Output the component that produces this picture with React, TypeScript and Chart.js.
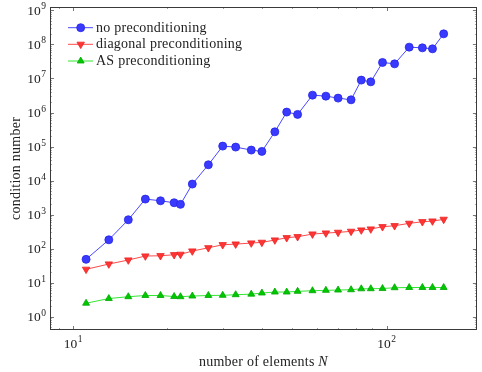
import React, { useEffect, useRef } from "react";
import { Chart, registerables } from "chart.js";

Chart.register(...registerables);

// ---------- data ----------
const elements: number[] = [11, 13, 15, 17, 19, 21, 22, 24, 27, 30, 33, 37, 40, 44, 48, 52, 58, 64, 70, 77, 83, 89, 97, 106, 118, 130, 140, 152];

const noPrecond: number[] = [48.5, 182, 706, 2860, 2550, 2230, 2000, 7890, 29100, 103000, 96400, 78700, 72100, 271000, 1030000, 880000, 3240000, 3030000, 2650000, 2360000, 8950000, 7970000, 29600000, 26900000, 83300000, 79400000, 74300000, 205000000];

const diagPrecond: number[] = [24.7, 35.3, 46.3, 60.6, 61.9, 66.2, 68, 85, 106, 130, 136, 146, 153, 179, 209, 224, 268, 287, 301, 322, 352, 377, 440, 471, 553, 617, 646, 725];

const asPrecond: number[] = [2.49, 3.42, 3.87, 4.2, 4.2, 3.92, 3.87, 4.05, 4.2, 4.25, 4.43, 4.6, 4.97, 5.31, 5.31, 5.57, 5.8, 5.96, 6.08, 6.21, 6.6, 6.64, 6.73, 7.11, 7.21, 7.21, 7.21, 7.21];

const seriesLabels: string[] = ["no preconditioning", "diagonal preconditioning", "AS preconditioning"];

const X_MIN = 8.44;
const X_MAX = 194;
const Y_MIN = 0.407;
const Y_MAX = 1.26e9;

const xTitle = "number of elements ";
const xTitleVar = "N";
const yTitle = "condition number";

const FONT = '"Liberation Serif", "DejaVu Serif", serif';
const TEXT_SIZE = 14;
const TEXT_SPACING = "0.25px";

const LINE_COLORS = ["#4848ff", "#ff4a4a", "#33e633"];
const MARK_FILL = ["#3a3aff", "#ff3434", "#00c800"];
const MARK_EDGE = ["#2525e6", "#e82424", "#00a600"];

function drawPow(ctx: CanvasRenderingContext2D, exp: number, x: number, y: number, align: "center" | "right") {
  const base = "10";
  const sup = String(exp);
  (ctx as any).letterSpacing = "0px";
  ctx.font = `13.5px ${FONT}`;
  const wb = ctx.measureText(base).width;
  ctx.font = `9.5px ${FONT}`;
  const ws = ctx.measureText(sup).width;
  const total = wb + ws + 0.5;
  const start = align === "center" ? x - total / 2 : x - total;
  ctx.textAlign = "left";
  ctx.textBaseline = "alphabetic";
  ctx.fillStyle = "#222";
  ctx.font = `13.5px ${FONT}`;
  ctx.fillText(base, start, y + 4.6);
  ctx.font = `9.5px ${FONT}`;
  ctx.fillText(sup, start + wb + 0.5, y - 1);
}

const decorPlugin = {
  id: "decor",
  beforeDatasetsDraw(chart: any) {
    const { ctx, chartArea: a, scales } = chart;
    const xs = scales.x;
    const ys = scales.y;
    ctx.save();
    ctx.lineWidth = 0.8;
    // x ticks
    for (let e = Math.floor(Math.log10(X_MIN)); e <= Math.ceil(Math.log10(X_MAX)); e++) {
      for (let m = 1; m <= 9; m++) {
        const v = m * Math.pow(10, e);
        if (v < X_MIN || v > X_MAX) continue;
        const px = Math.round(xs.getPixelForValue(v)) + 0.5;
        const len = m === 1 ? 4 : 2;
        ctx.strokeStyle = m === 1 ? "#555" : "#888";
        ctx.beginPath();
        ctx.moveTo(px, a.bottom);
        ctx.lineTo(px, a.bottom - len);
        ctx.moveTo(px, a.top);
        ctx.lineTo(px, a.top + len);
        ctx.stroke();
      }
    }
    // y ticks
    for (let e = Math.floor(Math.log10(Y_MIN)); e <= Math.ceil(Math.log10(Y_MAX)); e++) {
      for (let m = 1; m <= 9; m++) {
        const v = m * Math.pow(10, e);
        if (v < Y_MIN || v > Y_MAX) continue;
        const py = Math.round(ys.getPixelForValue(v)) + 0.5;
        const len = m === 1 ? 4 : 2;
        ctx.strokeStyle = m === 1 ? "#555" : "#999";
        ctx.beginPath();
        ctx.moveTo(a.left, py);
        ctx.lineTo(a.left + len, py);
        ctx.moveTo(a.right, py);
        ctx.lineTo(a.right - len, py);
        ctx.stroke();
      }
    }
    // frame
    ctx.strokeStyle = "#3a3a3a";
    ctx.lineWidth = 1;
    ctx.strokeRect(Math.round(a.left) + 0.5, Math.round(a.top) + 0.5, Math.round(a.right - a.left) - 1, Math.round(a.bottom - a.top) - 1);

    // x tick labels
    for (let e = Math.ceil(Math.log10(X_MIN)); e <= Math.floor(Math.log10(X_MAX)); e++) {
      const px = xs.getPixelForValue(Math.pow(10, e));
      drawPow(ctx, e, px, a.bottom + 13, "center");
    }
    // y tick labels
    for (let e = Math.ceil(Math.log10(Y_MIN)); e <= Math.floor(Math.log10(Y_MAX)); e++) {
      const py = ys.getPixelForValue(Math.pow(10, e));
      drawPow(ctx, e, a.left - 4, py, "right");
    }

    // x title
    ctx.fillStyle = "#222";
    ctx.textBaseline = "middle";
    ctx.textAlign = "left";
    (ctx as any).letterSpacing = TEXT_SPACING;
    ctx.font = `${TEXT_SIZE}px ${FONT}`;
    const w1 = ctx.measureText(xTitle).width;
    ctx.font = `italic ${TEXT_SIZE}px ${FONT}`;
    const w2 = ctx.measureText(xTitleVar).width;
    const cx = (a.left + a.right) / 2;
    const sx = cx - (w1 + w2) / 2;
    ctx.font = `${TEXT_SIZE}px ${FONT}`;
    ctx.fillText(xTitle, sx, 362);
    ctx.font = `italic ${TEXT_SIZE}px ${FONT}`;
    ctx.fillText(xTitleVar, sx + w1, 362);

    // y title
    ctx.save();
    ctx.translate(16, (a.top + a.bottom) / 2);
    ctx.rotate(-Math.PI / 2);
    ctx.textAlign = "center";
    ctx.font = `${TEXT_SIZE}px ${FONT}`;
    ctx.fillText(yTitle, 0, 0);
    ctx.restore();
    ctx.restore();
  },
  afterDatasetsDraw(chart: any) {
    const { ctx } = chart;
    ctx.save();
    const rows = [27.7, 44.3, 61];
    chart.data.datasets.forEach((ds: any, i: number) => {
      const y = rows[i];
      ctx.strokeStyle = LINE_COLORS[i];
      ctx.lineWidth = 1;
      ctx.beginPath();
      ctx.moveTo(68, y);
      ctx.lineTo(93, y);
      ctx.stroke();
      ctx.fillStyle = MARK_FILL[i];
      ctx.strokeStyle = MARK_EDGE[i];
      ctx.lineWidth = 0.8;
      ctx.beginPath();
      const mx = 80.7;
      if (i === 0) {
        ctx.arc(mx, y, 4, 0, Math.PI * 2);
      } else if (i === 1) {
        const r = 4.3;
        ctx.moveTo(mx, y + r);
        ctx.lineTo(mx - r * 0.866, y - r * 0.5);
        ctx.lineTo(mx + r * 0.866, y - r * 0.5);
        ctx.closePath();
      } else {
        const r = 4;
        ctx.moveTo(mx, y - r);
        ctx.lineTo(mx - r * 0.866, y + r * 0.5);
        ctx.lineTo(mx + r * 0.866, y + r * 0.5);
        ctx.closePath();
      }
      ctx.fill();
      ctx.stroke();
      ctx.fillStyle = "#222";
      (ctx as any).letterSpacing = TEXT_SPACING;
      ctx.font = `${TEXT_SIZE}px ${FONT}`;
      ctx.textAlign = "left";
      ctx.textBaseline = "middle";
      ctx.fillText(ds.label, 96, y + 0.5);
    });
    ctx.restore();
  },
};

export default function App() {
  const ref = useRef<HTMLCanvasElement | null>(null);
  useEffect(() => {
    if (!ref.current) return;
    const mk = (vals: number[]) => elements.map((x, i) => ({ x, y: vals[i] }));
    const chart = new Chart(ref.current, {
      type: "scatter",
      data: {
        datasets: [
          {
            label: seriesLabels[0],
            data: mk(noPrecond),
            showLine: true,
            borderColor: LINE_COLORS[0],
            borderWidth: 1,
            pointStyle: "circle",
            pointRadius: 4,
            pointBackgroundColor: MARK_FILL[0],
            pointBorderColor: MARK_EDGE[0],
            pointBorderWidth: 0.8,
          },
          {
            label: seriesLabels[1],
            data: mk(diagPrecond),
            showLine: true,
            borderColor: LINE_COLORS[1],
            borderWidth: 1,
            pointStyle: "triangle",
            pointRotation: 180,
            pointRadius: 4.3,
            pointBackgroundColor: MARK_FILL[1],
            pointBorderColor: MARK_EDGE[1],
            pointBorderWidth: 0.8,
          },
          {
            label: seriesLabels[2],
            data: mk(asPrecond),
            showLine: true,
            borderColor: LINE_COLORS[2],
            borderWidth: 1,
            pointStyle: "triangle",
            pointRadius: 4,
            pointBackgroundColor: MARK_FILL[2],
            pointBorderColor: MARK_EDGE[2],
            pointBorderWidth: 0.8,
          },
        ],
      },
      options: {
        responsive: false,
        animation: false,
        events: [],
        layout: { padding: { top: 7, right: 2, left: 0, bottom: 0 } },
        plugins: { legend: { display: false }, tooltip: { enabled: false } },
        scales: {
          x: {
            type: "logarithmic",
            min: X_MIN,
            max: X_MAX,
            ticks: { display: false },
            grid: { display: false },
            border: { display: false },
            afterFit: (s: any) => {
              s.height = 42;
            },
          },
          y: {
            type: "logarithmic",
            min: Y_MIN,
            max: Y_MAX,
            ticks: { display: false },
            grid: { display: false },
            border: { display: false },
            afterFit: (s: any) => {
              s.width = 50;
            },
          },
        },
      } as any,
      plugins: [decorPlugin],
    });
    return () => chart.destroy();
  }, []);
  return (
    <div style={{ position: "fixed", left: 0, top: 0, width: 482, height: 372, background: "#fff" }}>
      <canvas ref={ref} width={482} height={372} style={{ width: 482, height: 372, display: "block" }} />
    </div>
  );
}
